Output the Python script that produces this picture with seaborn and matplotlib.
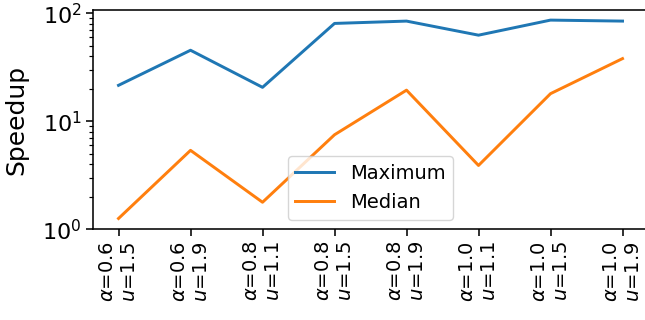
import matplotlib
matplotlib.use("Agg")
import matplotlib.pyplot as plt
import seaborn as sns
import pandas as pd

# Parameter settings (alpha, u) and measured speedups
alphas = ["0.6", "0.6", "0.8", "0.8", "0.8", "1.0", "1.0", "1.0"]
us = ["1.5", "1.9", "1.1", "1.5", "1.9", "1.1", "1.5", "1.9"]
maximum = [21.5, 45.4, 20.6, 80.4, 84.5, 62.6, 86.3, 84.5]
median = [1.26, 5.38, 1.78, 7.5, 19.4, 3.9, 18.0, 38.0]

tick_labels = [f"$\\alpha$={a}\n$u$={u}" for a, u in zip(alphas, us)]

s = 1.42
plt.rcParams.update({
    "font.size": 14,
    "lines.linewidth": 1.5 * s,
    "axes.linewidth": 0.8 * s,
    "xtick.major.size": 3.5 * s,
    "ytick.major.size": 3.5 * s,
    "ytick.minor.size": 2.0 * s,
    "xtick.major.width": 0.8 * s,
    "ytick.major.width": 0.8 * s,
    "ytick.minor.width": 0.6 * s,
})

n = len(tick_labels)
df = pd.DataFrame({
    "idx": list(range(n)) * 2,
    "Speedup": maximum + median,
    "kind": ["Maximum"] * n + ["Median"] * n,
})

fig = plt.figure(figsize=(6.45, 3.2), dpi=100)
ax = fig.add_axes([0.1447, 0.2834, 0.8595, 0.6853])
sns.lineplot(data=df, x="idx", y="Speedup", hue="kind", sort=False, ax=ax)
ax.set_yscale("log")
ax.set_ylim(1, 107)
ax.set_xticks(range(n))
ax.set_xticklabels(tick_labels, rotation=90, fontsize=14)
ax.tick_params(axis="y", labelsize=16)
ax.set_xlabel("")
ax.set_ylabel("Speedup", fontsize=18)
ax.yaxis.set_label_coords(-0.117, 0.5)
sns.move_legend(ax, "lower center", title=None, fontsize=14)

fig.savefig("out.png", dpi=100)
